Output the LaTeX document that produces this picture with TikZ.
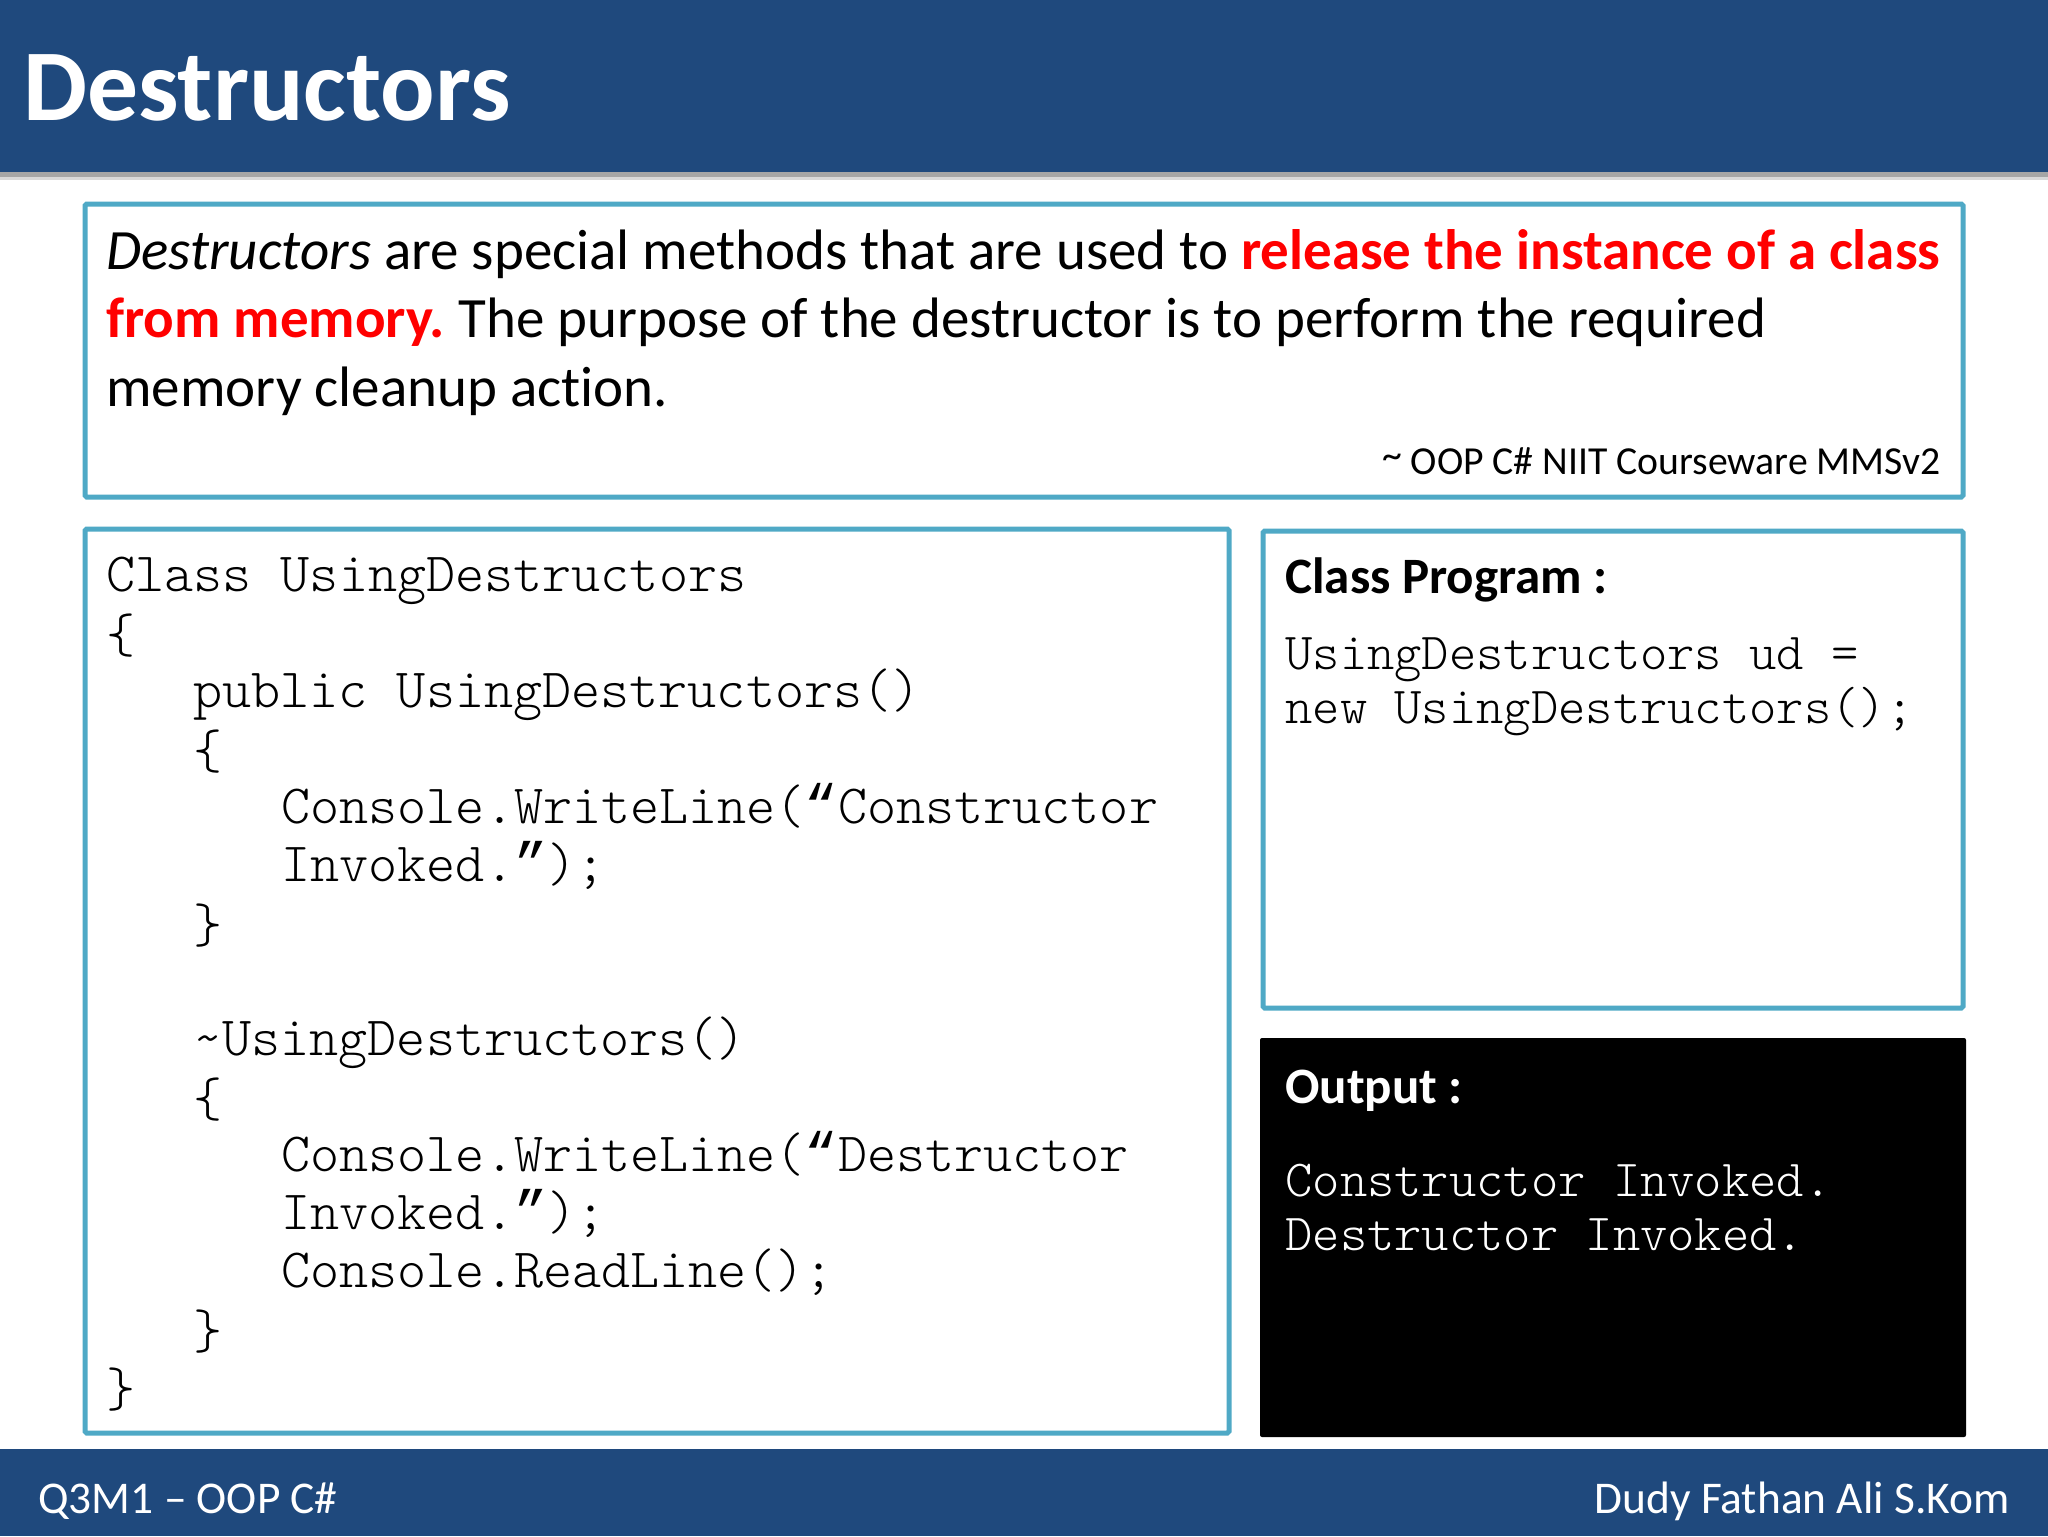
\documentclass[tikz,border=0pt]{standalone}
\usepackage{fontspec}
\setmainfont[Ligatures=NoCommon]{Carlito}
\setmonofont{Latin Modern Mono Light}
\newfontfamily\qfont{Liberation Mono}
\newcommand{\oq}{{\qfont “}}
\newcommand{\cq}{{\qfont ”}}
\definecolor{hdr}{HTML}{1F497D}
\definecolor{frame}{HTML}{4FA9C6}
\definecolor{redtxt}{HTML}{FF0000}
\tikzset{x=0.5pt,y=-0.5pt,
  box/.style={draw=frame,line width=2.5pt,fill=white,rounded corners=0.8pt},
  code/.style={anchor=base west,inner sep=0,font=\fontsize{27.7}{27.7}\selectfont\ttfamily,text=black},
  codesm/.style={code,font=\fontsize{26}{26}\selectfont\ttfamily},
  body/.style={anchor=base west,inner sep=0,font=\fontsize{28.5}{28.5}\selectfont},
  hd/.style={anchor=base west,inner sep=0,font=\fontsize{25.5}{25.5}\selectfont\bfseries},
  foot/.style={inner sep=0,text=white,font=\fontsize{22.7}{22.7}\selectfont},
}
\begin{document}
\begin{tikzpicture}
\useasboundingbox (0,0) rectangle (2048,1536);
\fill[white] (0,0) rectangle (2048,1536);
\fill[black!15] (0,172) rectangle (2048,180);
\fill[black!35] (0,172) rectangle (2048,177);
\fill[hdr] (0,0) rectangle (2048,172);
\fill[hdr] (0,1449) rectangle (2048,1536);
\node[anchor=base west,inner sep=0,text=white,font=\fontsize{50.8}{50.8}\selectfont\bfseries] (title) at (23,120) {Destructors};
\draw[box] (85,204) rectangle (1963,497);
\node[body] (d1) at (106,269) {\textit{Destructors} are special methods that are used to \textcolor{redtxt}{\textbf{release the instance of a class}}};
\node[body] (d2) at (106,337) {\textcolor{redtxt}{\textbf{from memory.}}\kern-2pt{} The purpose of the destructor is to perform the required};
\node[body] (d3) at (106,406) {memory cleanup action.};
\node[anchor=base east,inner sep=0,font=\fontsize{19.85}{19.85}\selectfont] (src) at (1941,474) {\raisebox{3pt}{\textasciitilde}{} OOP C\# NIIT Courseware MMSv2};
\draw[box] (85,529) rectangle (1229,1433);
\foreach \t/\x/\y/\n in {Class UsingDestructors/106/591/a,\{/106/652/b,public UsingDestructors()/193/707/c,\{/193/768/e,Console.WriteLine(\oq Constructor/281/823/f,Invoked.\cq);/281/881/g,\}/193/942/h,\textasciitilde UsingDestructors()/193/1055/i,\{/193/1116/j,Console.WriteLine(\oq Destructor/281/1171/k,Invoked.\cq);/281/1229/l,Console.ReadLine();/281/1287/m,\}/193/1348/o,\}/106/1406/p}
  \node[code] (c\n) at (\x,\y) {\t};
\draw[box] (1263,531) rectangle (1963,1008);
\node[hd] (cp) at (1285,593) {Class Program :};
\foreach \t/\y/\n in {UsingDestructors ud =/669/a,new UsingDestructors();/723/b}
  \node[codesm] (p\n) at (1285,\y) {\t};
\fill[black,rounded corners=1pt] (1260,1038) rectangle (1966,1437);
\node[hd,text=white] (op) at (1285,1103) {Output :};
\foreach \t/\y/\n in {Constructor Invoked./1196/a,Destructor Invoked./1250/b}
  \node[codesm,text=white] (o\n) at (1285,\y) {\t};
\node[foot,anchor=base west] (fl) at (38,1513) {Q3M1 – OOP C\#};
\node[foot,anchor=base east] (fr) at (2010,1513) {Dudy Fathan Ali S.Kom};
\end{tikzpicture}
\end{document}
